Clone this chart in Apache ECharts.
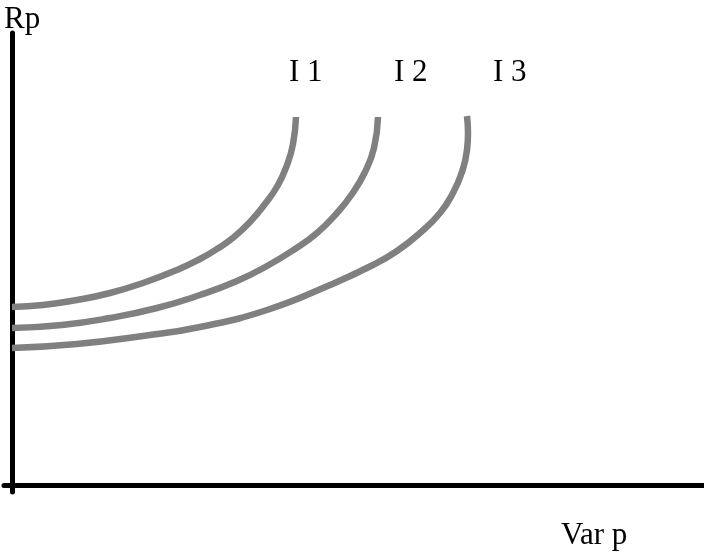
<!DOCTYPE html>
<html>
<head>
<meta charset="utf-8">
<script src="https://cdn.jsdelivr.net/npm/echarts@6/dist/echarts.min.js"></script>
<style>
  html, body { margin: 0; padding: 0; background: #fff; }
  #chart { width: 704px; height: 555px; }
</style>
</head>
<body>
<div id="chart"></div>
<script>
// indifference curves, values (Var p on x, Rp on y)
const curveNames = ['I 1', 'I 2', 'I 3'];
const i1X = [0, 31, 65, 98, 131, 165, 188, 205, 222, 238, 253, 266, 275, 281, 284];
const i1Y = [178, 180, 185, 192, 202, 215, 226, 236, 248, 263, 281, 300, 320, 341, 368];
const i2X = [0, 50, 98, 145, 188, 225, 255, 283, 305, 325, 340, 353, 362, 366];
const i2Y = [157, 160, 167, 177, 190, 204, 219, 236, 252, 272, 291, 313, 337, 368];
const i3X = [0, 65, 131, 188, 255, 318, 361, 385, 408, 428, 441, 450, 455, 456, 455];
const i3Y = [137, 141, 149, 158, 175, 200, 220, 234, 252, 272, 292, 313, 335, 352, 369];

const curves = [[i1X, i1Y], [i2X, i2Y], [i3X, i3Y]];
const serif = '"Liberation Serif", "DejaVu Serif", serif';

const chart = echarts.init(document.getElementById('chart'));

chart.setOption({
  backgroundColor: '#fff',
  animation: false,
  grid: { left: 4, right: 0, top: 33, bottom: 63 },
  xAxis: {
    type: 'value',
    min: -8,
    max: 692,
    axisLine: { show: true, onZero: true, lineStyle: { color: '#000', width: 5 } },
    axisTick: { show: false },
    axisLabel: { show: false },
    splitLine: { show: false }
  },
  yAxis: {
    type: 'value',
    min: -7,
    max: 452,
    axisLine: { show: true, onZero: true, lineStyle: { color: '#000', width: 5 } },
    axisTick: { show: false },
    axisLabel: { show: false },
    splitLine: { show: false }
  },
  series: curves.map((c, k) => ({
    name: curveNames[k],
    type: 'line',
    smooth: 0.5,
    showSymbol: false,
    lineStyle: { color: '#808080', width: 6.5 },
    data: c[0].map((x, i) => [x, c[1][i]])
  })),
  graphic: [
    { type: 'text', left: 4, top: 4, style: { text: 'Rp', font: '31px ' + serif, fill: '#000' } },
    { type: 'text', left: 561, top: 520, style: { text: 'Var p', font: '31px ' + serif, fill: '#000' } },
    { type: 'text', left: 289, top: 57, style: { text: curveNames[0], font: '31px ' + serif, fill: '#000' } },
    { type: 'text', left: 394, top: 57, style: { text: curveNames[1], font: '31px ' + serif, fill: '#000' } },
    { type: 'text', left: 493, top: 57, style: { text: curveNames[2], font: '31px ' + serif, fill: '#000' } }
  ]
});
</script>
</body>
</html>
